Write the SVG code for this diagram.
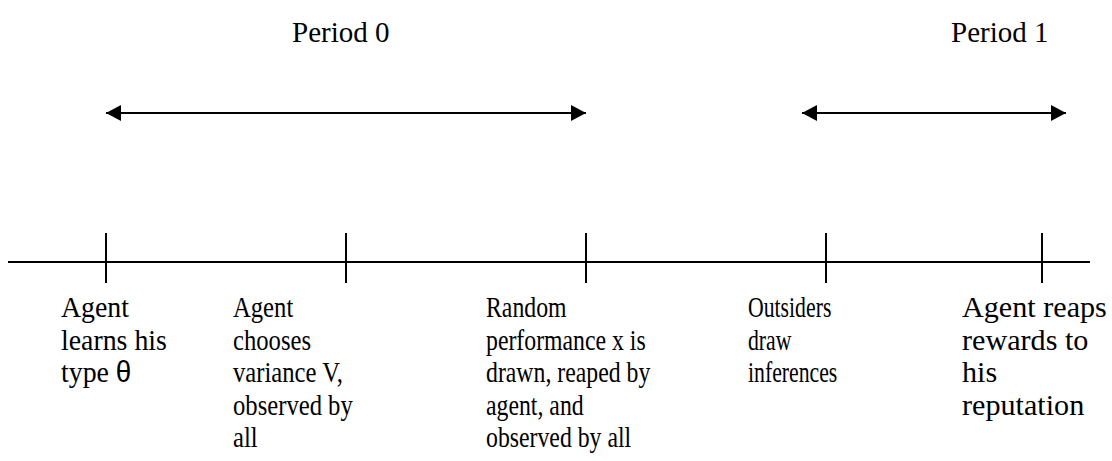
<svg xmlns="http://www.w3.org/2000/svg" width="1112" height="461" viewBox="0 0 1112 461">
<style>
.t{font-family:"Liberation Serif","Times New Roman",serif;font-size:29px;fill:#000}
.s{font-family:"Liberation Sans",Arial,sans-serif;font-size:29px;fill:#000}
.ln{stroke:#000;stroke-width:2;fill:none}
</style>
<defs>
<marker id="ah" viewBox="0 0 15 16" refX="15" refY="8" markerWidth="15" markerHeight="16" markerUnits="userSpaceOnUse" orient="auto-start-reverse">
<path d="M0,0 L15,8 L0,16 Z" fill="#000"/>
</marker>
</defs>
<rect width="1112" height="461" fill="#fff"/>
<g id="labels">
<text class="t" x="292" y="42">Period 0</text>
<text class="t" x="951" y="42">Period 1</text>
</g>
<g id="connectors">
<line class="ln" x1="106" y1="113" x2="586" y2="113" marker-start="url(#ah)" marker-end="url(#ah)"/>
<line class="ln" x1="802" y1="113" x2="1066" y2="113" marker-start="url(#ah)" marker-end="url(#ah)"/>
<line class="ln" x1="8" y1="262" x2="1090" y2="262"/>
</g>
<g id="tick1"><line class="ln" x1="106" y1="233" x2="106" y2="283"/></g>
<g id="tick2"><line class="ln" x1="346" y1="233" x2="346" y2="283"/></g>
<g id="tick3"><line class="ln" x1="586" y1="233" x2="586" y2="283"/></g>
<g id="tick4"><line class="ln" x1="826" y1="233" x2="826" y2="283"/></g>
<g id="tick5"><line class="ln" x1="1042" y1="233" x2="1042" y2="283"/></g>
<g id="event1" transform="translate(61,0) scale(0.96,1)">
<text class="t" x="0" y="317">Agent</text>
<text class="t" x="0" y="350">learns his</text>
<text class="t" x="0" y="382">type <tspan class="s">θ</tspan></text>
</g>
<g id="event2" transform="translate(233,0) scale(0.85,1)">
<text class="t" x="0" y="317">Agent</text>
<text class="t" x="0" y="350">chooses</text>
<text class="t" x="0" y="382">variance V,</text>
<text class="t" x="0" y="415">observed by</text>
<text class="t" x="0" y="447">all</text>
</g>
<g id="event3" transform="translate(486,0) scale(0.82,1)">
<text class="t" x="0" y="317">Random</text>
<text class="t" x="0" y="350">performance x is</text>
<text class="t" x="0" y="382">drawn, reaped by</text>
<text class="t" x="0" y="415">agent, and</text>
<text class="t" x="0" y="447">observed by all</text>
</g>
<g id="event4" transform="translate(748,0) scale(0.75,1)">
<text class="t" x="0" y="317">Outsiders</text>
<text class="t" x="0" y="350">draw</text>
<text class="t" x="0" y="382">inferences</text>
</g>
<g id="event5" transform="translate(962,0) scale(1.04,1)">
<text class="t" x="0" y="317">Agent reaps</text>
<text class="t" x="0" y="350">rewards to</text>
<text class="t" x="0" y="382">his</text>
<text class="t" x="0" y="415">reputation</text>
</g>
</svg>
